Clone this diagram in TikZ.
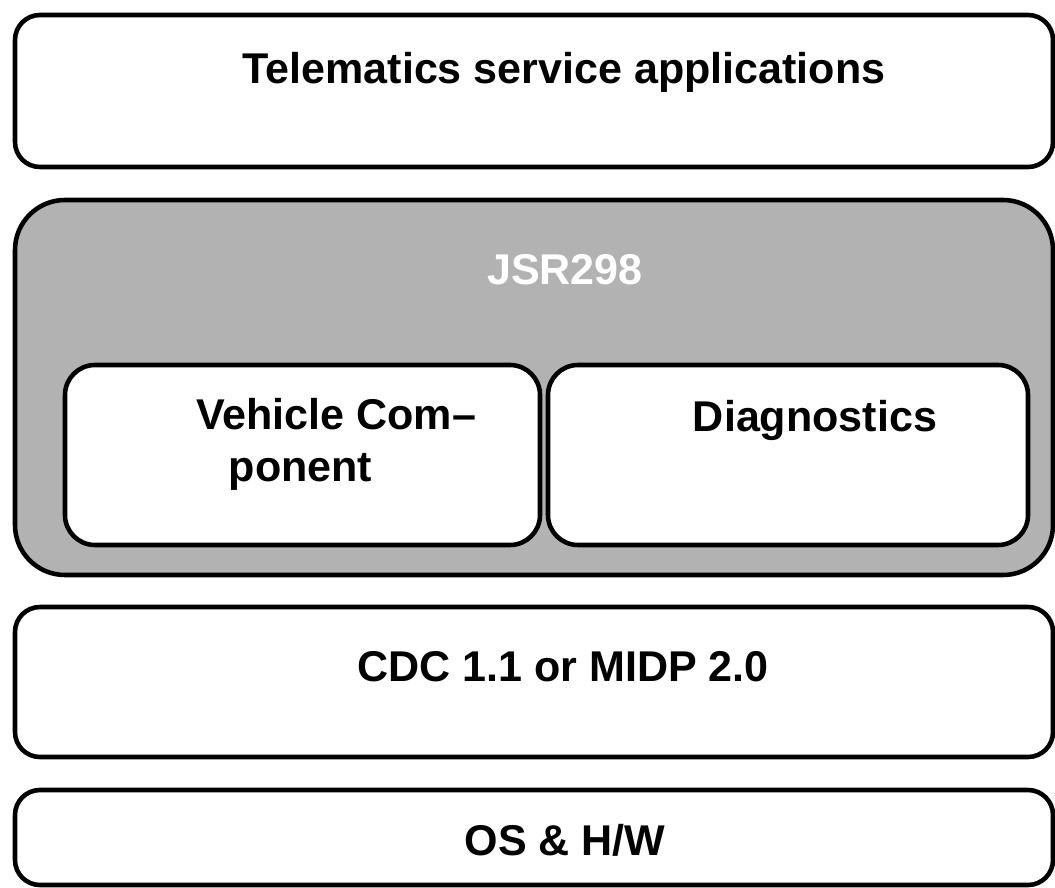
\documentclass[tikz,border=0pt]{standalone}
\usepackage{fontspec}
\setmainfont{Liberation Sans}
\usetikzlibrary{positioning}

\tikzset{
  layerbox/.style={draw, line width=2.6pt, rounded corners=0.5cm, minimum width=20.76cm},
  innerbox/.style={draw, line width=2.6pt, rounded corners=0.6cm, fill=white, minimum height=3.6cm},
  boxtext/.style={font=\fontsize{24.5}{29.5}\selectfont\bfseries, align=left}
}

\begin{document}
\begin{tikzpicture}
    \useasboundingbox (0,0) rectangle (21.1,-17.76);
    % Schichten
    \node[layerbox, minimum height=3.04cm] (apps) at (10.68,-1.82) {};
    \node[layerbox, minimum height=7.5cm, rounded corners=1cm, fill=black!30] (jsr) at (10.68,-7.75) {};
    \node[layerbox, minimum height=3.0cm] (cdc) at (10.68,-13.64) {};
    \node[layerbox, minimum height=1.9cm] (os) at (10.68,-16.75) {};
    % innere Bausteine
    \node[innerbox, minimum width=9.5cm] (vehicle) at (6.05,-9.1) {};
    \node[innerbox, minimum width=9.6cm] (diag) at (15.76,-9.1) {};
    % Beschriftungen
    \node[boxtext] (apps-label) at (11.28,-1.45) {Telematics service applications};
    \node[boxtext, text=white] (jsr-label) at (11.3,-5.4) {JSR298};
    \node[boxtext, anchor=north west] (vehicle-label) at (3.8,-7.85) {Vehicle Com--\\\hspace*{0.65cm}ponent};
    \node[boxtext] (diag-label) at (16.3,-8.4) {Diagnostics};
    \node[boxtext] (cdc-label) at (11.26,-13.34) {CDC 1.1 or MIDP 2.0};
    \node[boxtext] (os-label) at (11.3,-16.8) {OS \& H/W};
\end{tikzpicture}
\end{document}
